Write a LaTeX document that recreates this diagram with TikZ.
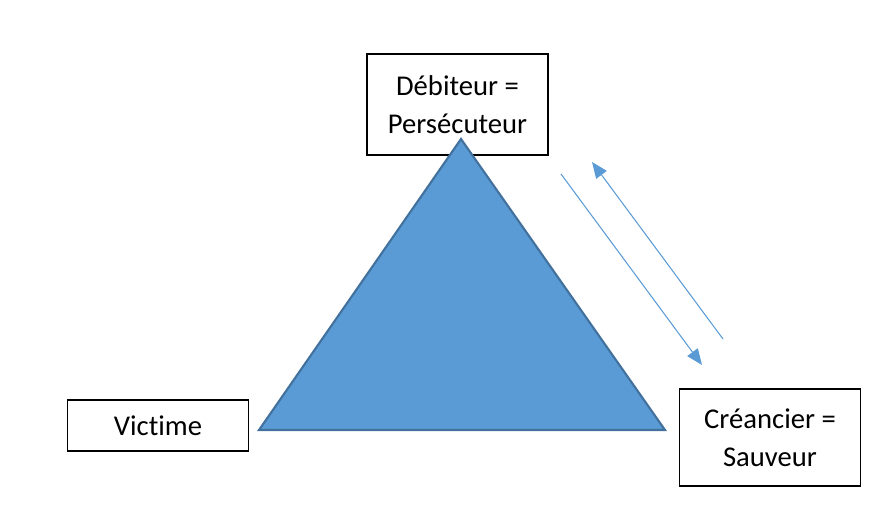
\documentclass[tikz,border=0pt]{standalone}
\usepackage{fontspec}
\setmainfont[Ligatures={NoCommon}]{Carlito}
\usetikzlibrary{arrows.meta,positioning}
\definecolor{triblue}{HTML}{5B9BD5}
\definecolor{trinavy}{HTML}{41719C}
\tikzset{
  >={Triangle[length=3.2mm,width=2.6mm]},
  % roller
  rolebox/.style={draw=black,line width=0.9pt,fill=white,align=center,
             inner sep=0pt,minimum width=181*0.02cm,
             font=\fontsize{16.3}{21.5}\selectfont},
  tri/.style={fill=triblue,draw=trinavy,line width=1.2pt,line join=miter},
  flow/.style={->,draw=triblue,line width=0.6pt},
}
\begin{document}
\begin{tikzpicture}[x=0.02cm,y=-0.02cm]
\useasboundingbox (0,0) rectangle (893,509);
  \node[rolebox,minimum height=101*0.02cm] (pers) at (457.5,104.5) {Débiteur =\\Persécuteur};
  \node[rolebox,minimum height=51*0.02cm] (vict) at (158,425.5) {Victime};
  \node[rolebox,minimum height=97*0.02cm] (sauv) at (770,437.5) {Créancier =\\Sauveur};
  \coordinate (apex) at (461,139);
  \coordinate (bl) at (259,430);
  \coordinate (br) at (665,430);
  \draw[tri] (apex) -- (bl) -- (br) -- cycle;
  \coordinate (d0) at (561,174);
  \coordinate (d1) at (702,365);
  \coordinate (u0) at (723,339);
  \coordinate (u1) at (592,162);
  \draw[flow] (d0) -- (d1);
  \draw[flow] (u0) -- (u1);
\end{tikzpicture}
\end{document}
